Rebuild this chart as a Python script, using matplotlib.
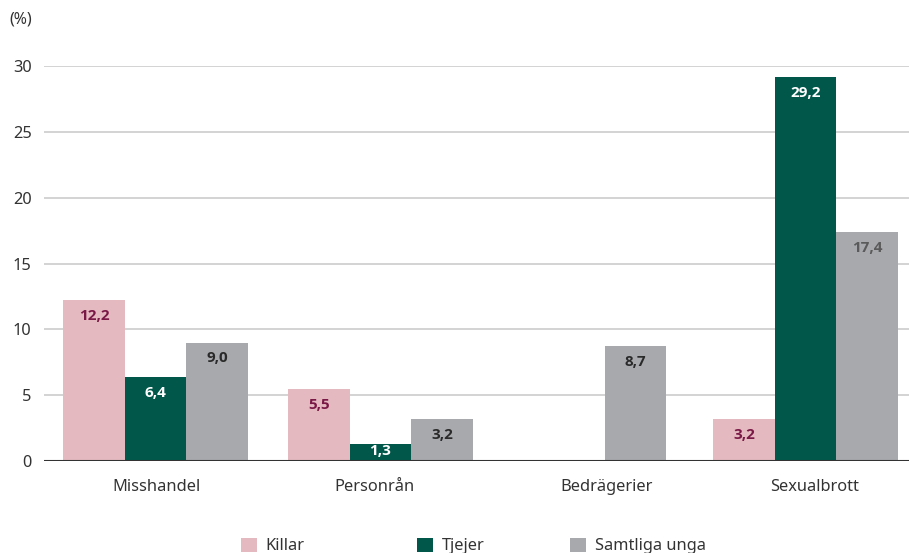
import matplotlib
matplotlib.use("Agg")
import matplotlib.pyplot as plt
from matplotlib import font_manager

plt.rcParams['font.family'] = ['Noto Sans', 'DejaVu Sans']

categories = ["Misshandel", "Personrån", "Bedrägerier", "Sexualbrott"]
series_names = ["Killar", "Tjejer", "Samtliga unga"]
killar = [12.2, 5.5, None, 3.2]
tjejer = [6.4, 1.3, None, 29.2]
samtliga = [9.0, 3.2, 8.7, 17.4]
y_ticks = [0, 5, 10, 15, 20, 25, 30]

# layout (pixel-like x units)
group_centers = [155.5, 380.5, 574, 805.5]
label_pos = [156, 374, 607, 815]
offsets = [-61.5, 0, 61.5]
bar_w = 61.5
colors = ["#e4b9c0", "#00574a", "#a8a9ad"]
label_colors = ["#7a1846", "#ffffff", "#2a2a2a"]

# pick a bold-capable family for value labels
bold_family = ['Open Sans', 'Noto Sans', 'DejaVu Sans']
for fam in ['Noto Sans', 'Open Sans', 'Lato', 'Roboto']:
    if any(f.name == fam and f.weight in (700, 'bold') for f in font_manager.fontManager.ttflist):
        bold_family = [fam, 'DejaVu Sans']
        break

W, H = 909, 553
fig = plt.figure(figsize=(W / 100, H / 100), dpi=100)
ax = fig.add_axes([44 / W, 1 - 461 / H, 1 - 44 / W, (461 - 66) / H])
ax.set_xlim(44, 909)
ax.set_ylim(0, 30)
px_per_unit = (461 - 66) / 30.0

handles = []
for si, (name, vals) in enumerate(zip(series_names, [killar, tjejer, samtliga])):
    xs, hs = [], []
    for gi, v in enumerate(vals):
        if v is None:
            continue
        xs.append(group_centers[gi] + offsets[si])
        hs.append(v)
    bars = ax.bar(xs, hs, width=bar_w, color=colors[si], zorder=3, linewidth=0)
    handles.append(bars)
    for x, v in zip(xs, hs):
        c = label_colors[si]
        if si == 2 and v > 15:
            c = "#5a5a5a"
        bar_px = v * px_per_unit
        off_px = min(16.0, bar_px * 0.42)
        ax.annotate(f"{v:.1f}".replace(".", ","), xy=(x, v), xytext=(0, -off_px * 0.72),
                    textcoords="offset points", ha="center", va="center",
                    fontsize=11, fontweight="bold", family=bold_family,
                    color=c, zorder=6)

ax.set_yticks(y_ticks)
ax.set_yticklabels([str(t) for t in y_ticks])
ax.grid(axis="y", color="#c8c8c8", linewidth=1.1, zorder=0)
ax.set_axisbelow(True)
ax.axhline(0, color="#333333", linewidth=1.5, zorder=5)
ax.set_xticks(label_pos)
ax.set_xticklabels(categories)
ax.tick_params(axis="both", length=0, labelsize=11.8, colors="#333333")
ax.tick_params(axis="y", pad=9)
ax.tick_params(axis="x", pad=13)
for s in ax.spines.values():
    s.set_visible(False)

fig.text(9 / W, 1 - 20 / H, "(%)", fontsize=11.5, color="#333333", va="center", ha="left")

legend_x = [241, 417, 570]
for h, name, lx in zip(handles, series_names, legend_x):
    fig.legend([h], [name], loc="center left", bbox_to_anchor=(lx / W, 1 - 546 / H),
               frameon=False, fontsize=11.8, handlelength=1.0, handleheight=1.0,
               handletextpad=0.5, borderpad=0, borderaxespad=0, labelcolor="#333333")

fig.savefig("out.png", dpi=100)
